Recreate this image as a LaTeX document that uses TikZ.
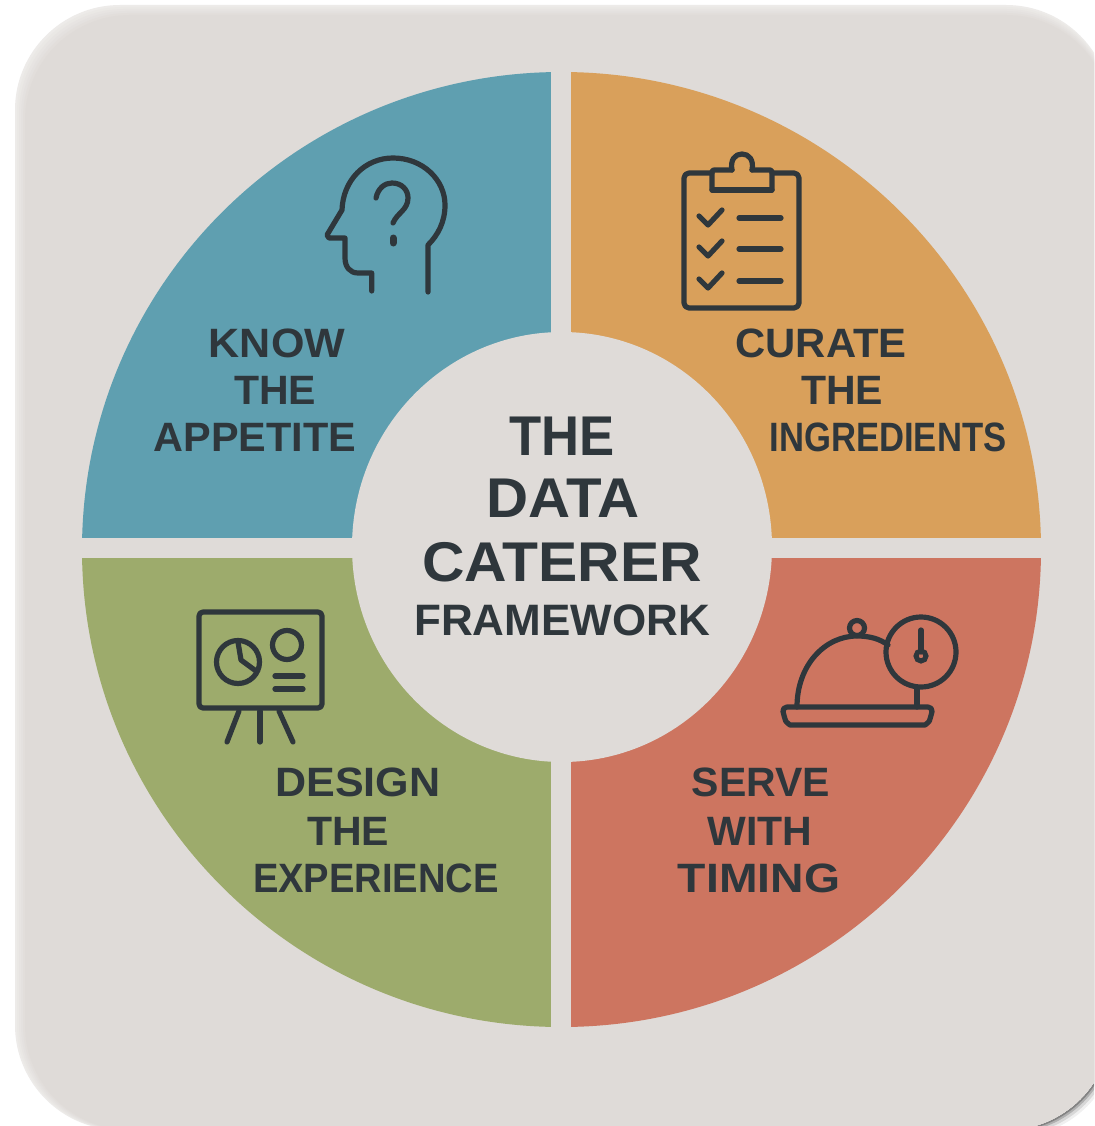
\documentclass[tikz,border=0pt]{standalone}
\usepackage{graphicx}
\usepackage{fontspec}
\usetikzlibrary{shapes.geometric}
\setmainfont{Liberation Sans}
\definecolor{cardc}{HTML}{DFDBD8}
\definecolor{cardedge}{HTML}{EDEBE9}
\definecolor{tealc}{HTML}{5F9FB0}
\definecolor{orangec}{HTML}{D9A05B}
\definecolor{redc}{HTML}{CD7560}
\definecolor{greenc}{HTML}{9DAB6C}
\definecolor{inkc}{HTML}{2F373C}
\tikzset{
  lbl/.style={inner sep=0pt,outer sep=0pt,text=inkc,anchor=center,font=\bfseries\fontsize{41}{41}\selectfont},
  hublbl/.style={lbl,font=\bfseries\fontsize{56}{56}\selectfont},
  iconline/.style={draw=inkc,line width=5.2pt,line cap=round,line join=round},
  cardshape/.style={rounded corners=105pt}
}
\newcommand{\capword}[2][1]{\scalebox{#1}[1]{\vphantom{H}\smash{#2}}}
\begin{document}
\begin{tikzpicture}[x=1pt,y=-1pt]
\useasboundingbox (0,0) rectangle (1094,1126);
\clip (0,0) rectangle (1094,1126);
\fill[white] (0,0) rectangle (1094,1126);
% card with shadow on the lower right
\begin{scope}
  \clip (600,600) rectangle (1094,1126);
  \foreach \o/\a in {7/.06,5/.10,3/.18,1.5/.25}{
    \fill[black,opacity=\a,cardshape] (15+\o,5+\o) rectangle (1111+\o,1130+\o);
  }
\end{scope}
\fill[cardedge,cardshape] (15,5) rectangle (1111,1130);
\foreach \i/\m in {2/20,4/40,6/60,8/80,10/100}{
  \fill[cardc!\m!cardedge,cardshape] (15+\i,5+\i) rectangle (1111,1130);
}
% quadrants
\begin{scope}
  \clip (561.5,549.5) ellipse[x radius=479.5,y radius=477.5];
  \fill[tealc]   (60,50)   rectangle (551,538);
  \fill[orangec] (571,50)  rectangle (1060,538);
  \fill[greenc]  (60,558)  rectangle (551,1050);
  \fill[redc]    (571,558) rectangle (1060,1050);
\end{scope}
\node[ellipse,fill=cardc,minimum width=420pt,minimum height=430pt,inner sep=0pt] (hub) at (562,547) {};
% head icon
\draw[iconline] (371.7,291) -- (371.7,273) -- (358,273) .. controls (350,273) and (345,267) .. (345,258) -- (345,238) -- (329,238) -- (327,235) -- (342,210) .. controls (343,180) and (365,158) .. (393,158) .. controls (423,158) and (445,180) .. (445,205) .. controls (445,222) and (438,235) .. (428,245) -- (428,292);
\draw[iconline] (376,198) .. controls (378,188) and (385,183) .. (392,183) .. controls (402,183) and (408,190) .. (408,198) .. controls (408,210) and (397,213) .. (393,223);
\draw[inkc,line width=7pt,line cap=round] (393,238) -- (393,243);
% clipboard icon
\draw[iconline,rounded corners=5pt] (712,173) -- (684,173) -- (684,308) -- (799,308) -- (799,173) -- (772,173);
\draw[iconline,rounded corners=2pt] (712,190) -- (712,170) -- (732,170);
\draw[iconline,rounded corners=2pt] (752,170) -- (772,170) -- (772,190);
\draw[iconline] (712,190) -- (772,190);
\draw[iconline] (732,170) .. controls (730,160) and (735,154) .. (742,154) .. controls (749,154) and (754,160) .. (752,170);
\foreach \d/\yy in {0/218,31/249,63/281}{
  \draw[iconline] (699,216+\d) -- (708,225+\d) -- (722,210+\d);
  \draw[iconline] (739,\yy) -- (781,\yy);
}
% presentation icon
\draw[iconline,rounded corners=4pt] (199,612) rectangle (322,708);
\draw[iconline] (238,662) circle[radius=21.5];
\draw[iconline] (238,642) -- (241,660) -- (256,671);
\draw[iconline] (287,645) circle[radius=14.5];
\draw[iconline] (275,676) -- (303,676);
\draw[iconline] (275,689) -- (303,689);
\draw[iconline] (239,711) -- (227,742);
\draw[iconline] (260,711) -- (260,742);
\draw[iconline] (279,711) -- (293,742);
% cloche icon
\draw[iconline] (797,707) .. controls (797,665) and (825,636) .. (857,636) .. controls (870,636) and (880,639) .. (888,645);
\draw[iconline] (857,628) circle[radius=7.5];
\draw[iconline] (921,652) circle[radius=35];
\draw[iconline] (921,630) -- (921,652);
\draw[inkc,line width=5pt] (921,656) circle[radius=5];
\draw[iconline] (917,687) -- (917,707);
\draw[iconline,rounded corners=5pt] (782,707) -- (933,707) -- (931,716) .. controls (929,722) and (925,725) .. (920,725) -- (795,725) .. controls (790,725) and (786,722) .. (784,716) -- cycle;
% labels
\node[lbl] (k1) at (277,343) {\capword[1.05]{KNOW}};
\node[lbl] (k2) at (275,390) {\capword{THE}};
\node[lbl] (k3) at (255,437) {\capword[1.01]{APPETITE}};
\node[lbl] (c1) at (821,343) {\capword[1.02]{CURATE}};
\node[lbl] (c2) at (842,390) {\capword{THE}};
\node[lbl] (c3) at (888,437) {\capword[.845]{INGREDIENTS}};
\node[lbl] (d1) at (358,782) {\capword[1.05]{DESIGN}};
\node[lbl] (d2) at (348,831) {\capword{THE}};
\node[lbl] (d3) at (376,878) {\capword[.93]{EXPERIENCE}};
\node[lbl] (s1) at (761,782) {\capword{SERVE}};
\node[lbl] (s2) at (760,831) {\capword{WITH}};
\node[lbl] (s3) at (759,878) {\capword[1.13]{TIMING}};
\node[hublbl] (h1) at (562,436) {\capword[.94]{THE}};
\node[hublbl] (h2) at (563,498) {\capword[1.04]{DATA}};
\node[hublbl] (h3) at (562,562) {\capword[1.05]{CATERER}};
\node[lbl,font=\bfseries\fontsize{44}{44}\selectfont] (h4) at (562,620) {\capword{FRAMEWORK}};
\end{tikzpicture}
\end{document}
